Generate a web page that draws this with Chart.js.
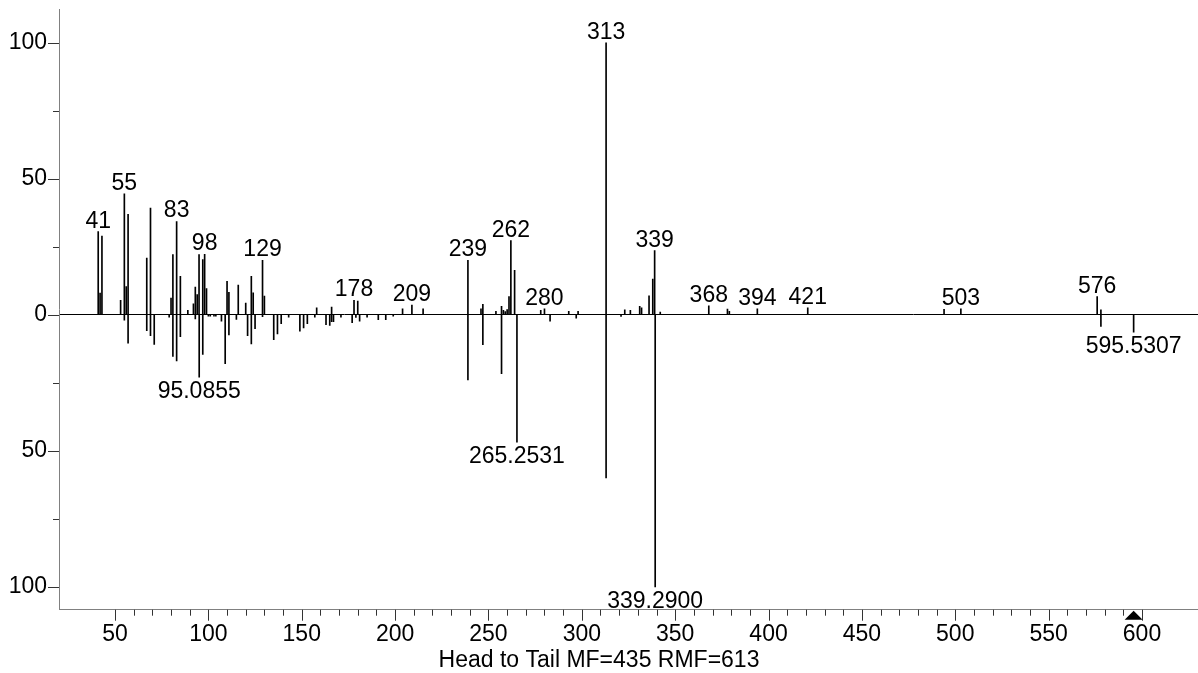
<!DOCTYPE html>
<html>
<head>
<meta charset="utf-8">
<title>Head to Tail</title>
<script src="https://cdn.jsdelivr.net/npm/chart.js@4.4.0/dist/chart.umd.min.js"></script>
<style>
  html, body { margin: 0; padding: 0; background: #fff; }
  #wrap { width: 1198px; height: 673px; }
</style>
</head>
<body>
<div id="wrap"><canvas id="spectrum" width="1198" height="673"></canvas></div>
<script>
// Head spectrum (library hit, drawn upwards)
const headMz = [41, 42, 43, 53, 55, 56, 57, 67, 69, 80, 81, 83, 85, 89, 92, 93, 94, 95, 97, 98, 99,
  110, 111, 116, 120, 123, 124, 129, 130, 158, 166, 178, 180, 204, 209, 215,
  239, 246, 247, 254, 257, 258, 259, 260, 261, 262, 264, 278, 280, 293, 298,
  313, 323, 326, 331, 332, 336, 338, 339, 342, 368, 378, 379, 394, 421, 494, 503, 576, 578];
const headInt = [30.6, 8, 28.9, 5.3, 44.5, 10.4, 36.9, 20.8, 39.2, 6.1, 22.1, 34.3, 14.1, 1.6, 4, 10.2, 7.4, 22.1, 20.3, 22.2, 9.6,
  12.3, 8.3, 10.9, 4.3, 14.1, 8.1, 20, 6.9, 2.6, 2.8, 5.3, 5, 2.2, 3.6, 2.2,
  20, 2.2, 3.8, 1.3, 3.1, 1.6, 1.2, 1.9, 6.7, 27.3, 16.3, 1.6, 2.2, 1.3, 1.3,
  100, 1.8, 1.6, 3.1, 2.6, 7, 13.1, 23.6, 1, 3.3, 2.1, 1.3, 2.2, 2.6, 2, 2.2, 6.7, 1.8];

// Tail spectrum (unknown, drawn downwards)
const tailMz = [55, 57, 67, 69, 71, 79, 81, 83, 85, 93, 95.0855, 97, 100, 101, 103, 104, 107, 109, 111, 115,
  121, 123, 125, 129, 135, 137, 139, 143, 149, 151, 153, 157, 163, 165, 166, 167, 171, 177, 179, 181,
  185, 191, 195, 199, 239, 247, 257, 265.2531, 283, 297, 313, 321, 339.29, 578, 595.5307];
const tailInt = [-2, -10.4, -5.8, -7.7, -10.9, -0.9, -15.3, -17, -8, -1.5, -22.9, -14.6, -0.5, -0.5, -0.5, -0.5, -2.3, -18, -7.4, -1.7,
  -7.7, -10.7, -5.1, -0.7, -9.1, -7, -3.3, -0.9, -6, -4.8, -3.3, -0.9, -3.6, -3.9, -2.5, -2.5, -0.9, -2.9, -1, -2.3,
  -0.9, -1.8, -1.8, -0.5, -23.9, -11, -21.6, -46.8, -2.3, -1.2, -60, -0.6, -100, -4.3, -6.4];

// Annotated peaks
const headLabelMz = [41, 55, 83, 98, 129, 178, 209, 239, 262, 280, 313, 339, 368, 394, 421, 503, 576];
const tailLabelMz = [95.0855, 265.2531, 339.29, 595.5307];
const tailLabelText = ['95.0855', '265.2531', '339.2900', '595.5307'];

// Axes
const xTicks = [50, 100, 150, 200, 250, 300, 350, 400, 450, 500, 550, 600];
const xMinorTicks = [60, 70, 80, 90, 110, 120, 130, 140, 160, 170, 180, 190, 210, 220, 230, 240,
  260, 270, 280, 290, 310, 320, 330, 340, 360, 370, 380, 390, 410, 420, 430, 440,
  460, 470, 480, 490, 510, 520, 530, 540, 560, 570, 580, 590];
const yTicks = [-100, -50, 0, 50, 100];
const yMinorTicks = [-75, -25, 25, 75];
const precursorMz = 595.5307;

const FONT = '"Liberation Sans", Arial, sans-serif';
Chart.defaults.font.family = FONT;

// tick marks, peak annotations and precursor marker
const spectrumDecor = {
    id: 'spectrumDecor',
    afterDraw(chart) {
        const { ctx, scales: { x, y } } = chart;
        ctx.save();
        ctx.strokeStyle = '#333';
        ctx.lineWidth = 1;
        ctx.beginPath();
        const xTick = (v, len) => {
            const px = Math.round(x.getPixelForValue(v)) + 0.5;
            ctx.moveTo(px, y.bottom);
            ctx.lineTo(px, y.bottom + len);
        };
        const yTick = (v, len) => {
            const py = Math.round(y.getPixelForValue(v)) + 0.5;
            ctx.moveTo(x.left - len, py);
            ctx.lineTo(x.left, py);
        };
        xTicks.forEach(v => xTick(v, 11));
        xMinorTicks.forEach(v => xTick(v, 6));
        yTicks.forEach(v => yTick(v, 11));
        yMinorTicks.forEach(v => yTick(v, 6));
        ctx.stroke();

        // labels
        ctx.fillStyle = '#000';
        ctx.font = '23px ' + FONT;
        ctx.textAlign = 'center';
        ctx.textBaseline = 'alphabetic';
        headLabelMz.forEach(m => {
            const i = headMz.indexOf(m);
            ctx.fillText(String(m), x.getPixelForValue(m), y.getPixelForValue(headInt[i]) - 4);
        });
        tailLabelMz.forEach((m, k) => {
            const i = tailMz.indexOf(m);
            ctx.fillText(tailLabelText[k], x.getPixelForValue(m), y.getPixelForValue(tailInt[i]) + 21);
        });

        // precursor triangle
        const tx = x.getPixelForValue(precursorMz);
        ctx.beginPath();
        ctx.moveTo(tx, y.bottom + 1);
        ctx.lineTo(tx + 9, y.bottom + 10);
        ctx.lineTo(tx - 9, y.bottom + 10);
        ctx.closePath();
        ctx.fill();
        ctx.restore();
    }
};

new Chart(document.getElementById('spectrum'), {
    type: 'bar',
    data: {
        datasets: [
            {
                label: 'Head',
                data: headMz.map((m, i) => ({ x: m, y: headInt[i] })),
                backgroundColor: '#000',
                borderWidth: 0,
                barThickness: 1,
                grouped: false
            },
            {
                label: 'Tail',
                data: tailMz.map((m, i) => ({ x: m, y: tailInt[i] })),
                backgroundColor: '#000',
                borderWidth: 0,
                barThickness: 1,
                grouped: false
            }
        ]
    },
    options: {
        responsive: false,
        animation: false,
        devicePixelRatio: 1,
        layout: { padding: { top: 9, left: 0, right: 0, bottom: 0 } },
        scales: {
            x: {
                type: 'linear',
                min: 20,
                max: 630,
                offset: false,
                afterBuildTicks: s => { s.ticks = xTicks.map(v => ({ value: v })); },
                afterFit: s => { s.height = 38; s.paddingLeft = 0; s.paddingRight = 0; },
                grid: { display: false, drawTicks: false },
                border: { display: true, color: '#808080', width: 1 },
                ticks: {
                    autoSkip: false,
                    maxRotation: 0,
                    padding: 11,
                    color: '#000',
                    font: { size: 23 }
                }
            },
            y: {
                type: 'linear',
                min: -108.4,
                max: 112.4,
                afterBuildTicks: s => { s.ticks = yTicks.map(v => ({ value: v })); },
                afterFit: s => { s.width = 59; s.paddingTop = 0; s.paddingBottom = 0; },
                grid: {
                    drawTicks: false,
                    color: c => (c.tick && c.tick.value === 0) ? '#000' : 'rgba(0,0,0,0)'
                },
                border: { display: true, color: '#808080', width: 1 },
                ticks: {
                    padding: 12,
                    color: '#000',
                    font: { size: 23 },
                    callback: v => String(Math.abs(v))
                }
            }
        },
        plugins: {
            legend: { display: false },
            tooltip: { enabled: false },
            title: {
                display: true,
                position: 'bottom',
                text: 'Head to Tail MF=435 RMF=613',
                color: '#000',
                padding: 0,
                font: { size: 23, weight: 'normal', lineHeight: 1.1 }
            }
        }
    },
    plugins: [spectrumDecor]
});
</script>
</body>
</html>
